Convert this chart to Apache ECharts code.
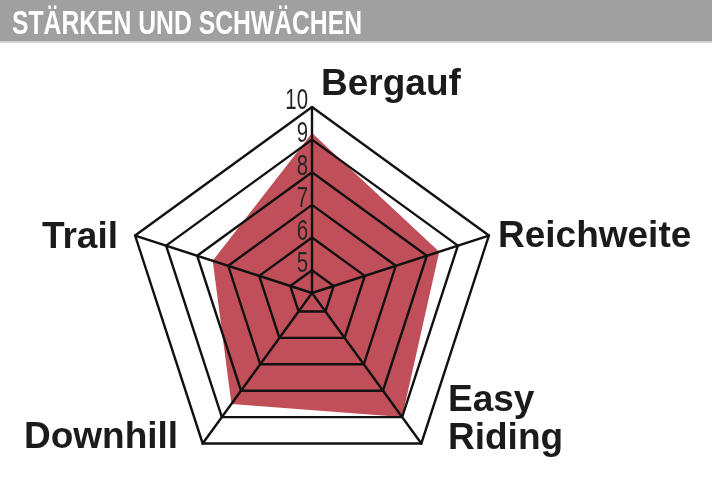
<!DOCTYPE html>
<html>
<head>
<meta charset="utf-8">
<script src="https://cdn.jsdelivr.net/npm/echarts@6/dist/echarts.min.js"></script>
<style>
html,body{margin:0;padding:0;background:#fff;}
#chart{width:712px;height:489px;}
</style>
</head>
<body>
<div id="chart"></div>
<script>
// ---- data (clockwise from the top) ----
const chartTitle = 'STÄRKEN UND SCHWÄCHEN';
const categories = ['Bergauf', 'Reichweite', 'Easy Riding', 'Downhill', 'Trail'];
const values = [9.2, 8.4, 9.0, 8.5, 7.5];
const ringValues = [5, 6, 7, 8, 9, 10];
const tickLabels = ['5', '6', '7', '8', '9', '10'];
const scaleMin = 4.3;
const scaleMax = 10;

// ---- layout / style ----
const CX = 312, CY = 293, R = 186;
const nameLayout = [
  {x: 321, y: 85, align: 'left'},
  {x: 498, y: 237, align: 'left'},
  {x: 448, y: 420, align: 'left'},
  {x: 24, y: 438, align: 'left'},
  {x: 118, y: 238, align: 'right'}
];
const lineColor = '#111';
const lineWidth = 2.4;
const fillColor = '#c04f5a';
const nameFont = '"Liberation Sans", Arial, sans-serif';
const titleWidth = 350;
const titleFontSize = 34;
const tickFontSize = 30;
const tickScaleX = 0.68;

// ECharts radar places indicators counter-clockwise, the chart reads clockwise
const radarOrder = [0, 4, 3, 2, 1];

const chart = echarts.init(document.getElementById('chart'));

function ringRadius(v) { return R * (v - scaleMin) / (scaleMax - scaleMin); }

function measure(text, font) {
  const c = document.createElement('canvas').getContext('2d');
  c.font = font;
  return c.measureText(text).width;
}

const radars = [{
  center: [CX, CY], radius: R, startAngle: 90, shape: 'polygon', splitNumber: 1,
  indicator: radarOrder.map(i => ({name: categories[i], min: scaleMin, max: scaleMax})),
  axisName: {show: false},
  axisLine: {show: true, lineStyle: {color: lineColor, width: lineWidth}},
  axisTick: {show: false}, axisLabel: {show: false},
  splitLine: {show: true, lineStyle: {color: lineColor, width: lineWidth}},
  splitArea: {show: false},
  z: 5
}];
ringValues.slice(0, -1).forEach(v => {
  radars.push({
    center: [CX, CY], radius: ringRadius(v), startAngle: 90, shape: 'polygon', splitNumber: 1,
    indicator: radarOrder.map(() => ({name: '', min: scaleMin, max: v})),
    axisName: {show: false},
    axisLine: {show: false}, axisTick: {show: false}, axisLabel: {show: false},
    splitLine: {show: true, lineStyle: {color: lineColor, width: lineWidth}},
    splitArea: {show: false},
    z: 5
  });
});

const titleFont = 'bold ' + titleFontSize + 'px ' + nameFont;
const titleScale = titleWidth / measure(chartTitle, titleFont);

const graphics = [
  {type: 'rect', left: 0, top: 0, shape: {width: 712, height: 41}, style: {fill: '#a0a0a0'}, silent: true},
  {type: 'rect', left: 0, top: 41, shape: {width: 712, height: 2}, style: {fill: '#d2d2d2'}, silent: true},
  {type: 'text', x: 12, y: 24.5, scaleX: titleScale,
   style: {text: chartTitle, fill: '#fff', font: titleFont, textAlign: 'left', textVerticalAlign: 'middle'}, silent: true}
];
categories.forEach((n, i) => {
  const L = nameLayout[i];
  graphics.push({
    type: 'text', x: L.x, y: L.y,
    style: {text: n.replace(' ', '\n'), fill: '#1b1b1b', font: 'bold 37px ' + nameFont,
            lineHeight: 38, textAlign: L.align, textVerticalAlign: 'middle'},
    silent: true
  });
});

chart.setOption({
  animation: false,
  backgroundColor: '#fff',
  radar: radars,
  // hidden value axis laid over the top spoke: carries the ring scale for the tick labels
  grid: {left: CX, width: 10, top: CY - R, height: R},
  xAxis: {type: 'value', show: false},
  yAxis: {
    type: 'value', min: scaleMin, max: scaleMax, show: false
  },
  graphic: graphics,
  series: [{
    type: 'radar', radarIndex: 0, z: 1, symbol: 'none', silent: true,
    lineStyle: {width: 0},
    areaStyle: {color: fillColor, opacity: 1},
    data: [{name: 'Bewertung', value: radarOrder.map(i => values[i])}]
  }]
});

// tick labels placed through the y axis scale
const tickGraphics = ringValues.map((v, k) => {
  const py = chart.convertToPixel({yAxisIndex: 0}, v);
  return {
    type: 'text', id: 'tick' + k, x: CX - 4, y: py - 6, scaleX: tickScaleX,
    style: {text: tickLabels[k], fill: '#262626', font: tickFontSize + 'px ' + nameFont,
            lineHeight: 20, textAlign: 'right', textVerticalAlign: 'middle'},
    silent: true, z: 10
  };
});
chart.setOption({graphic: graphics.concat(tickGraphics)});
</script>
</body>
</html>
